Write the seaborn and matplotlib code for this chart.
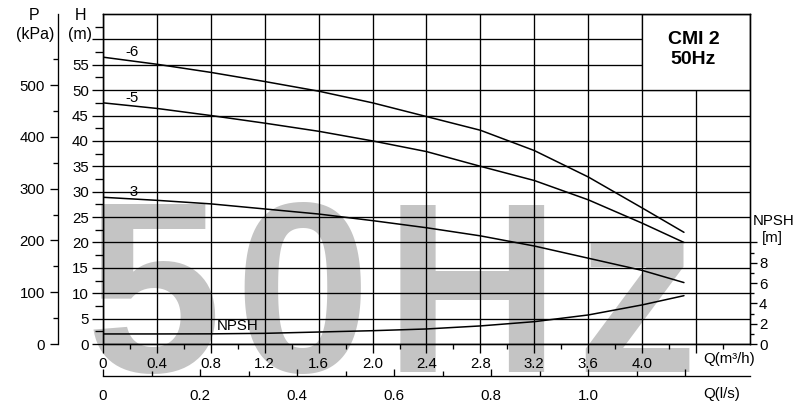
import numpy as np
import matplotlib
matplotlib.use("Agg")
import matplotlib.pyplot as plt
import seaborn as sns
from matplotlib.patches import Rectangle
from matplotlib.ticker import FixedLocator

# ---------------- data ----------------
Q_m3h = [0.0, 0.4, 0.8, 1.2, 1.6, 2.0, 2.4, 2.8, 3.2, 3.6, 4.0, 4.31]
H_6 = [56.5, 55.1, 53.5, 51.7, 49.8, 47.5, 44.8, 42.1, 38.1, 32.9, 26.8, 22.0]
H_5 = [47.5, 46.4, 45.0, 43.5, 41.9, 40.0, 37.9, 35.0, 32.2, 28.4, 23.8, 20.0]
H_3 = [28.9, 28.3, 27.6, 26.6, 25.6, 24.3, 22.9, 21.3, 19.3, 16.9, 14.5, 12.1]
NPSH_m = [0.99, 0.99, 1.0, 1.05, 1.18, 1.31, 1.48, 1.78, 2.2, 2.86, 3.85, 4.76]

curve_names = ["-6", "-5", "-3"]
model_text = "CMI 2\n50Hz"
watermark = ["5", "0", "H", "z"]

q_ticks = [0, 0.4, 0.8, 1.2, 1.6, 2.0, 2.4, 2.8, 3.2, 3.6, 4.0, 4.4]
q_tick_labels = ["0", "0.4", "0.8", "1.2", "1.6", "2.0", "2.4", "2.8", "3.2", "3.6", "4.0", ""]
q_minor = [0.2, 0.6, 1.0, 1.4, 1.8, 2.2, 2.6, 3.0, 3.4, 3.8, 4.2, 4.6]
h_ticks = [0, 5, 10, 15, 20, 25, 30, 35, 40, 45, 50, 55, 60]
h_tick_labels = ["0", "5", "10", "15", "20", "25", "30", "35", "40", "45", "50", "55", ""]
h_minor = [2.5, 7.5, 12.5, 17.5, 22.5, 27.5, 32.5, 37.5, 42.5, 47.5, 52.5, 57.5, 62.5]
p_ticks = [0, 100, 200, 300, 400, 500]
p_minor = [50, 150, 250, 350, 450, 550]
npsh_ticks = [0, 2, 4, 6, 8, 10]
npsh_tick_labels = ["0", "2", "4", "6", "8", ""]
npsh_minor = [1, 3, 5, 7, 9]
ls_ticks = [0, 0.2, 0.4, 0.6, 0.8, 1.0, 1.2]
ls_tick_labels = ["0", "0.2", "0.4", "0.6", "0.8", "1.0", ""]
ls_minor = [0.1, 0.3, 0.5, 0.7, 0.9, 1.1]

# ---------------- style ----------------
sns.set_style("ticks", {"axes.edgecolor": "black", "xtick.color": "black",
                        "ytick.color": "black", "text.color": "black",
                        "axes.labelcolor": "black"})
plt.rcParams['font.family'] = ['Liberation Sans', 'DejaVu Sans']
FS = 10.8
LW = 0.95

W, Hpx = 804, 409
def fx(px):
    return px / W
def fy(py):
    return 1 - py / Hpx

fig = plt.figure(figsize=(W / 100, Hpx / 100), dpi=100)
fig.patch.set_facecolor("white")

ax = fig.add_axes([fx(103), fy(344), (750 - 103) / W, (344 - 14) / Hpx])
ax.patch.set_visible(False)
for s in ax.spines.values():
    s.set_linewidth(LW)

# watermark behind everything
wm_centers = [153, 302, 472, 636]
for ch, cx in zip(watermark, wm_centers):
    fig.text(fx(cx), fy(372), ch, ha="center", va="baseline", fontsize=176,
             fontweight="bold", color="#c4c4c4", family="Liberation Sans", zorder=-1)

# curves
for name, hv in zip(curve_names, [H_6, H_5, H_3]):
    sns.lineplot(x=Q_m3h, y=hv, ax=ax, color="black", linewidth=1.1, sort=False)
    ax.text(0.215, hv[0] + 1.0, name, ha="center", va="center", fontsize=FS)

ax.set_xlim(0, 4.8)
ax.set_ylim(0, 65)
ax.set_xticks(q_ticks, q_tick_labels)
ax.xaxis.set_minor_locator(FixedLocator(q_minor))
ax.set_yticks(h_ticks, h_tick_labels)
ax.yaxis.set_minor_locator(FixedLocator(h_minor))
ax.tick_params(axis="x", which="major", direction="out", length=6.5, width=LW,
               pad=2.5, labelsize=FS)
ax.tick_params(axis="x", which="minor", direction="out", length=3.6, width=LW)
ax.tick_params(axis="y", which="major", direction="out", length=8, width=LW,
               pad=2.2, labelsize=FS)
ax.tick_params(axis="y", which="minor", direction="out", length=5.8, width=LW)
ax.grid(True, which="major", color="black", linewidth=LW)
ax.set_xlabel("")
ax.set_ylabel("")

# title box
ax.add_patch(Rectangle((4.0, 50), 0.8, 15, facecolor="white", edgecolor="black",
                       linewidth=LW, zorder=2.5))
ax.text(4.38, 58.0, model_text, ha="center", va="center", fontsize=14,
        fontweight="bold", linespacing=1.2, zorder=3)

# NPSH axis
ax2 = ax.twinx()
sns.lineplot(x=Q_m3h, y=NPSH_m, ax=ax2, color="black", linewidth=1.1, sort=False)
ax2.set_ylim(0, 32.5)
ax2.set_xlim(0, 4.8)
ax2.set_yticks(npsh_ticks, npsh_tick_labels)
ax2.yaxis.set_minor_locator(FixedLocator(npsh_minor))
ax2.tick_params(axis="y", which="major", direction="out", length=5, width=LW,
                pad=1.5, labelsize=FS)
ax2.tick_params(axis="y", which="minor", direction="out", length=3, width=LW)
ax2.set_ylabel("")
for s in ax2.spines.values():
    s.set_linewidth(LW)
ax2.text(1.0, 1.75, "NPSH", ha="center", va="center", fontsize=FS)

# pressure axis (kPa)
secp = ax.secondary_yaxis((58 - 103) / 647, functions=(lambda h: h * 9.81,
                                                       lambda p: p / 9.81))
secp.set_yticks(p_ticks)
secp.yaxis.set_minor_locator(FixedLocator(p_minor))
secp.tick_params(axis="y", which="major", direction="out", length=5.8, width=LW,
                 pad=3.6, labelsize=FS)
secp.tick_params(axis="y", which="minor", direction="out", length=3.6, width=LW)
secp.spines["left"].set_linewidth(LW)

# flow axis (l/s)
secq = ax.secondary_xaxis((344 - 376) / 330, functions=(lambda q: q / 3.6,
                                                        lambda l: l * 3.6))
secq.set_xticks(ls_ticks, ls_tick_labels)
secq.xaxis.set_minor_locator(FixedLocator(ls_minor))
secq.tick_params(axis="x", which="major", direction="in", length=5, width=LW,
                 pad=9, labelsize=FS)
secq.tick_params(axis="x", which="minor", direction="in", length=3.6, width=LW)
secq.spines["bottom"].set_linewidth(LW)

# axis titles
fig.text(fx(34), fy(16), "P", ha="center", va="center", fontsize=11.5)
fig.text(fx(35), fy(35), "(kPa)", ha="center", va="center", fontsize=11.5)
fig.text(fx(81), fy(16), "H", ha="center", va="center", fontsize=11.5)
fig.text(fx(80), fy(35), "(m)", ha="center", va="center", fontsize=11.5)
fig.text(fx(774), fy(221), "NPSH", ha="center", va="center", fontsize=FS)
fig.text(fx(772), fy(238), "[m]", ha="center", va="center", fontsize=FS)
fig.text(fx(703), fy(359), "Q(m³/h)", ha="left", va="center", fontsize=FS)
fig.text(fx(703), fy(394), "Q(l/s)", ha="left", va="center", fontsize=FS)

fig.savefig("out.png", dpi=100)
